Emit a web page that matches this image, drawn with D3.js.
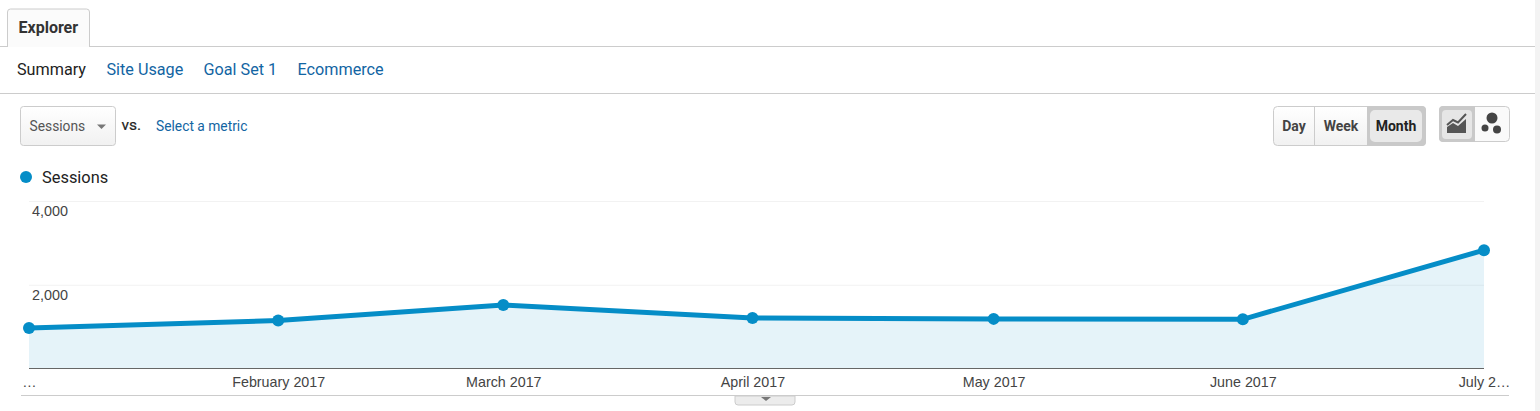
<!DOCTYPE html>
<html>
<head>
<meta charset="utf-8">
<script src="https://cdn.jsdelivr.net/npm/d3@7"></script>
<style>
html,body{margin:0;padding:0;background:#fff;overflow:hidden}
svg{display:block}
text{font-family:Roboto,sans-serif}
.chart text{font-family:"Liberation Sans",Arial,sans-serif}
</style>
</head>
<body>
<svg id="c" width="1540" height="411"></svg>
<script>
const months = ["2017-01-01","2017-02-01","2017-03-01","2017-04-01","2017-05-01","2017-06-01","2017-07-01"];
const sessions = [965,1145,1515,1205,1185,1175,2826];
const monthLabels = ["…","February 2017","March 2017","April 2017","May 2017","June 2017","July 2…"];
const yTicks = [2000,4000];
const tabs = ["Site Usage","Goal Set 1","Ecommerce"];
const granularity = ["Day","Week","Month"];

const svg = d3.select("#c");
const dates = months.map(d=>new Date(d+"T00:00:00Z"));
const x = d3.scaleUtc().domain([dates[0],dates[6]]).range([29,1484]);
const y = d3.scaleLinear().domain([0,4000]).range([368.5,201]);
const BLUE="#058dc7", LINK="#1265a3", LINE="#cccccc";

// scrollbar strip
svg.append("rect").attr("x",1535).attr("y",0).attr("width",5).attr("height",411).attr("fill","#f3f3f3");

// tab
svg.append("line").attr("x1",0).attr("x2",1535).attr("y1",46.5).attr("y2",46.5).attr("stroke",LINE);
const grad=svg.append("defs").append("linearGradient").attr("id","g").attr("x1",0).attr("x2",0).attr("y1",0).attr("y2",1);
grad.append("stop").attr("offset","0").attr("stop-color","#ffffff");
grad.append("stop").attr("offset","1").attr("stop-color","#f1f1f1");
svg.append("path").attr("d","M7.5,47V12a3,3 0 0 1 3,-3H86.5a3,3 0 0 1 3,3V47").attr("fill","#fbfbfb").attr("stroke",LINE);
svg.append("text").attr("x",18.5).attr("y",33).attr("font-size",16).attr("font-weight",700).attr("fill","#333").text("Explorer");

// sub tabs
svg.append("text").attr("x",17).attr("y",75).attr("font-size",16.2).attr("fill","#222").text("Summary");
const tabX=[106.5,203.5,297.5];
tabs.forEach((t,i)=>svg.append("text").attr("x",tabX[i]).attr("y",75).attr("font-size",16.2).attr("fill",LINK).text(t));
svg.append("line").attr("x1",0).attr("x2",1535).attr("y1",93.5).attr("y2",93.5).attr("stroke",LINE);

// dropdown
svg.append("rect").attr("x",20.5).attr("y",106.5).attr("width",95).attr("height",39).attr("rx",3).attr("fill","url(#g)").attr("stroke",LINE);
svg.append("text").attr("x",29.5).attr("y",131).attr("font-size",13.8).attr("fill","#555").text("Sessions");
svg.append("path").attr("d","M97,124.5h9l-4.5,4.5z").attr("fill","#777");
svg.append("text").attr("x",121.5).attr("y",130).attr("font-size",15.5).attr("fill","#222").style("stroke","#222").style("stroke-width",0.2).text("vs.");
svg.append("text").attr("x",156).attr("y",131).attr("font-size",13.8).attr("fill",LINK).text("Select a metric");

// granularity
svg.append("rect").attr("x",1273.5).attr("y",106.5).attr("width",152).attr("height",39).attr("rx",4).attr("fill","url(#g)").attr("stroke",LINE);
svg.append("line").attr("x1",1314.5).attr("x2",1314.5).attr("y1",107).attr("y2",145).attr("stroke",LINE);
svg.append("path").attr("d","M1367,106h55a4,4 0 0 1 4,4v32a4,4 0 0 1 -4,4h-55z").attr("fill","#c9c9c9");
svg.append("rect").attr("x",1370).attr("y",110).attr("width",52).attr("height",32).attr("rx",5).attr("fill","#e9e9e9");
const gx=[1294,1341,1396];
granularity.forEach((t,i)=>svg.append("text").attr("x",gx[i]).attr("y",131).attr("text-anchor","middle").attr("font-size",14).attr("font-weight",700).attr("fill",i==2?"#222":"#444").text(t));

// chart type
svg.append("rect").attr("x",1439.5).attr("y",106.5).attr("width",70).attr("height",35).attr("rx",4).attr("fill","#fafafa").attr("stroke",LINE);
svg.append("path").attr("d","M1439,110a4,4 0 0 1 4,-4h32v36h-32a4,4 0 0 1 -4,-4z").attr("fill","#c9c9c9");
svg.append("rect").attr("x",1442).attr("y",110).attr("width",30).attr("height",29).attr("rx",4).attr("fill","#e6e6e6");
svg.append("path").attr("d","M1447,133v-6l6,-4l5,3l8,-7v14z").attr("fill","#555");
svg.append("path").attr("d","M1447,125l6,-5l5,2.5l8,-8.5").attr("fill","none").attr("stroke","#555").attr("stroke-width",2);
[[1492,118,5.5],[1485,128,3.5],[1497,129.5,4]].forEach(c=>svg.append("circle").attr("cx",c[0]).attr("cy",c[1]).attr("r",c[2]).attr("fill","#444"));

// legend
svg.append("circle").attr("cx",26).attr("cy",177).attr("r",6).attr("fill",BLUE);
svg.append("text").attr("x",42).attr("y",183).attr("font-size",16.4).attr("fill","#222").text("Sessions");

// chart
const chart=svg.append("g").attr("class","chart");
const gridY=chart.append("g").attr("transform","translate(29,0)")
  .call(d3.axisRight(y).tickValues(yTicks).tickSize(1455).tickFormat(""));
gridY.select(".domain").remove();
gridY.selectAll("line").attr("stroke","#f2f2f2").attr("stroke-width",1);

const pts=dates.map((d,i)=>({d,v:sessions[i]}));
chart.append("path").datum(pts).attr("fill",BLUE).attr("fill-opacity",0.105)
  .attr("d",d3.area().x(p=>x(p.d)).y0(y(0)).y1(p=>y(p.v)));

const yAxis=chart.append("g").attr("transform","translate(68,0)")
  .call(d3.axisLeft(y).tickValues(yTicks).tickSize(0).tickPadding(0).tickFormat(d3.format(",")));
yAxis.select(".domain").remove();
yAxis.selectAll("text").attr("dy",null).attr("y",14.5).attr("font-size",14.4).attr("fill","#444")
  .style("font-family",'"Liberation Sans",Arial,sans-serif');

chart.append("path").datum(pts).attr("fill","none").attr("stroke",BLUE).attr("stroke-width",5)
  .attr("d",d3.line().x(p=>x(p.d)).y(p=>y(p.v)));
chart.selectAll("circle.pt").data(pts).join("circle").attr("class","pt")
  .attr("cx",p=>x(p.d)).attr("cy",p=>y(p.v)).attr("r",6).attr("fill",BLUE);

const xAxis=chart.append("g").attr("transform","translate(0,368.5)")
  .call(d3.axisBottom(x).tickValues(dates).tickSize(0).tickPadding(0)
    .tickFormat((d,i)=>monthLabels[i]));
xAxis.select(".domain").attr("d","M29,0H1484").attr("stroke","#666").attr("stroke-width",1);
xAxis.selectAll("text").attr("y",8).attr("font-size",14.3).attr("fill","#444")
  .style("font-family",'"Liberation Sans",Arial,sans-serif');

// bottom rule + handle
svg.append("line").attr("x1",21).attr("x2",1509).attr("y1",395.5).attr("y2",395.5).attr("stroke",LINE);
svg.append("path").attr("d","M735,396v6a3,3 0 0 0 3,3H792a3,3 0 0 0 3,-3v-6z").attr("fill","#ececec").attr("stroke",LINE);
svg.append("path").attr("d","M761,397h10l-5,4z").attr("fill","#777");
</script>
</body>
</html>
